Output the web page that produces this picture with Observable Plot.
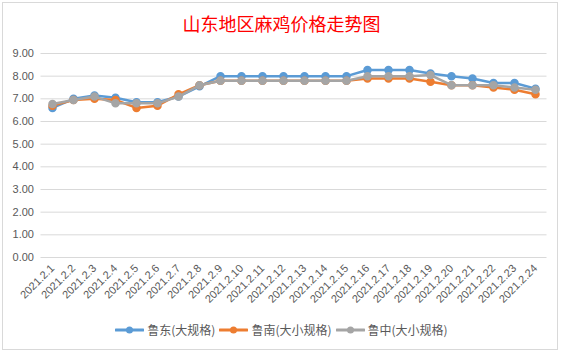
<!DOCTYPE html>
<html>
<head>
<meta charset="utf-8">
<script src="https://cdn.jsdelivr.net/npm/d3@7"></script>
<script src="https://cdn.jsdelivr.net/npm/@observablehq/plot@0.6"></script>
<style>
  html, body { margin: 0; padding: 0; background: #ffffff; }
  #wrap { position: relative; width: 563px; height: 354px; overflow: hidden; font-family: "Liberation Sans", "Noto Sans CJK SC", sans-serif; }
  #frame { position: absolute; left: 2px; top: 2px; width: 556px; height: 348px; border: 1px solid #d9d9d9; box-sizing: border-box; }
  #title { position: absolute; left: 0; top: 12px; width: 563px; text-align: center; color: #ff0000; font-size: 18px; font-family: "Noto Sans CJK SC", sans-serif; line-height: 22px; }
  #chart { position: absolute; left: 0; top: 0; }
  #legend { position: absolute; left: 0; top: 321px; width: 563px; display: flex; justify-content: center; gap: 4px; font-size: 12px; color: #595959; font-family: "Noto Sans CJK SC", sans-serif; line-height: 18px; }
  .item { display: flex; align-items: center; }
  .item svg { margin-right: 3px; }
</style>
</head>
<body>
<div id="wrap">
  <div id="frame"></div>
  <div id="chart"></div>
  <div id="title">山东地区麻鸡价格走势图</div>
  <div id="legend"></div>
</div>
<script>
const dates = ["2021.2.1","2021.2.2","2021.2.3","2021.2.4","2021.2.5","2021.2.6","2021.2.7","2021.2.8","2021.2.9","2021.2.10","2021.2.11","2021.2.12","2021.2.13","2021.2.14","2021.2.15","2021.2.16","2021.2.17","2021.2.18","2021.2.19","2021.2.20","2021.2.21","2021.2.22","2021.2.23","2021.2.24"];
const seriesNames = ["鲁东(大规格)", "鲁南(大小规格)", "鲁中(大小规格)"];
const ludong = [6.6, 7.0, 7.15, 7.05, 6.85, 6.85, 7.1, 7.55, 8.0, 8.0, 8.0, 8.0, 8.0, 8.0, 8.0, 8.27, 8.27, 8.27, 8.12, 8.0, 7.9, 7.7, 7.7, 7.45];
const lunan  = [6.7, 6.95, 7.0, 6.95, 6.6, 6.7, 7.2, 7.6, 7.8, 7.8, 7.8, 7.8, 7.8, 7.8, 7.8, 7.9, 7.9, 7.9, 7.75, 7.6, 7.6, 7.5, 7.4, 7.2];
const luzhong= [6.77, 6.95, 7.1, 6.8, 6.8, 6.8, 7.1, 7.6, 7.8, 7.8, 7.8, 7.8, 7.8, 7.8, 7.8, 8.0, 8.0, 8.0, 8.05, 7.6, 7.6, 7.6, 7.5, 7.4];
const yTicks = [0,1,2,3,4,5,6,7,8,9];
const colors = ["#5B9BD5", "#ED7D31", "#A5A5A5"];

const allSeries = [ludong, lunan, luzhong];
const data = [];
allSeries.forEach((vals, si) => {
  vals.forEach((v, i) => data.push({date: dates[i], value: v, series: seriesNames[si]}));
});

const marks = [
  Plot.ruleY(yTicks, {stroke: "#d9d9d9", strokeWidth: 1})
];
seriesNames.forEach((name, si) => {
  const d = data.filter(r => r.series === name);
  marks.push(Plot.line(d, {x: "date", y: "value", stroke: colors[si], strokeWidth: 2.5, strokeLinejoin: "round", strokeLinecap: "round"}));
  marks.push(Plot.dot(d, {x: "date", y: "value", fill: colors[si], stroke: colors[si], r: 3.5}));
});

const chart = Plot.plot({
  width: 563,
  height: 354,
  marginTop: 53,
  marginBottom: 97,
  marginLeft: 40.5,
  marginRight: 16.5,
  style: {background: "transparent", fontFamily: "Liberation Sans, sans-serif", fontSize: "11px", color: "#595959"},
  x: {type: "point", domain: dates, padding: 0.5, label: null, tickRotate: -45, tickSize: 0, tickPadding: 9},
  y: {domain: [0, 9], ticks: yTicks, tickFormat: d3.format(".2f"), label: null, tickSize: 0, tickPadding: 7},
  marks
});
document.getElementById("chart").appendChild(chart);

const legend = document.getElementById("legend");
seriesNames.forEach((name, si) => {
  const item = document.createElement("div");
  item.className = "item";
  item.innerHTML = `<svg width="29" height="10"><line x1="1" y1="5" x2="28" y2="5" stroke="${colors[si]}" stroke-width="3" stroke-linecap="round"/><circle cx="14.5" cy="5" r="3.5" fill="${colors[si]}"/></svg><span>${name}</span>`;
  legend.appendChild(item);
});
</script>
</body>
</html>
